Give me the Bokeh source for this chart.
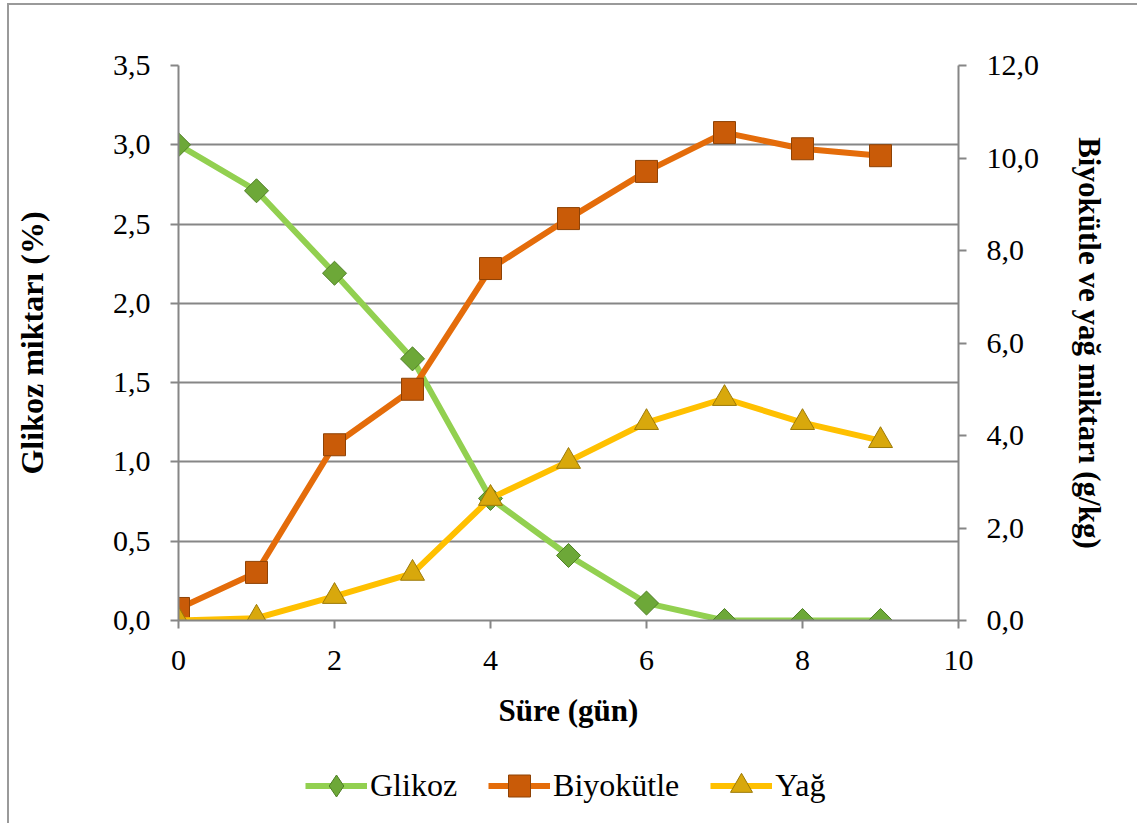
import math
from bokeh.plotting import figure
from bokeh.layouts import column
from bokeh.models import Range1d, LinearAxis, FixedTicker, Legend, LegendItem
from bokeh.embed import file_html
from bokeh.resources import INLINE

# Fermentation time course
days = [0, 1, 2, 3, 4, 5, 6, 7, 8, 9]
glikoz = [3.00, 2.71, 2.19, 1.65, 0.77, 0.41, 0.11, 0.0, 0.0, 0.0]          # %
biyokutle = [0.26, 1.04, 3.80, 5.00, 7.61, 8.69, 9.71, 10.55, 10.20, 10.05]  # g/kg
yag = [0.0, 0.05, 0.52, 1.02, 2.64, 3.44, 4.28, 4.80, 4.28, 3.89]            # g/kg

x_ticks = [0, 2, 4, 6, 8, 10]
left_ticks = [0, 0.5, 1.0, 1.5, 2.0, 2.5, 3.0, 3.5]
right_ticks = [0, 2, 4, 6, 8, 10, 12]

def comma(v, nd=1):
    return f"{v:.{nd}f}".replace(".", ",")

FONT = "Liberation Serif"
GRAY = "#868686"

G_LINE, G_FILL, G_EDGE = "#92D050", "#6DA838", "#4F7F26"
B_LINE, B_FILL, B_EDGE = "#E46C0A", "#C95B08", "#8E4205"
Y_LINE, Y_FILL, Y_EDGE = "#FFC000", "#D8A80C", "#9C7A08"

p = figure(width=1128, height=730, output_backend="svg", toolbar_location=None,
           x_range=Range1d(0, 10), y_range=Range1d(0, 3.5),
           min_border_left=169, min_border_right=179,
           min_border_top=60, min_border_bottom=115,
           background_fill_color="white", border_fill_color="white")
p.outline_line_color = None
p.extra_y_ranges = {"right": Range1d(0, 12)}

# horizontal grid only
p.xgrid.visible = False
p.ygrid.ticker = FixedTicker(ticks=left_ticks)
p.ygrid.grid_line_color = GRAY
p.ygrid.grid_line_width = 2

def style_axis(ax):
    ax.axis_line_color = GRAY
    ax.axis_line_width = 2
    ax.major_tick_line_color = GRAY
    ax.major_tick_line_width = 2
    ax.major_tick_out = 8
    ax.major_tick_in = 0
    ax.minor_tick_line_color = None
    ax.major_label_text_font = FONT
    ax.major_label_text_font_size = "30px"
    ax.major_label_text_color = "black"
    ax.axis_label_text_font = FONT
    ax.axis_label_text_font_size = "31px"
    ax.axis_label_text_font_style = "bold"
    ax.axis_label_text_color = "black"

xa = p.xaxis[0]
style_axis(xa)
xa.ticker = FixedTicker(ticks=x_ticks)
xa.major_label_standoff = 22
xa.axis_label = "Süre (gün)"
xa.axis_label_standoff = 20

ya = p.yaxis[0]
style_axis(ya)
ya.ticker = FixedTicker(ticks=left_ticks)
ya.major_label_overrides = {t: comma(t) for t in left_ticks}
ya.major_label_standoff = 20
ya.axis_label = "Glikoz miktarı (%)"
ya.axis_label_text_font_size = "32px"
ya.axis_label_standoff = 60

ra = LinearAxis(y_range_name="right")
style_axis(ra)
ra.ticker = FixedTicker(ticks=right_ticks)
ra.major_label_overrides = {t: comma(t) for t in right_ticks}
ra.major_label_standoff = 20
ra.axis_label = "Biyokütle ve yağ miktarı (g/kg)"
ra.axis_label_standoff = 30
p.add_layout(ra, "right")

# series
p.line(days, glikoz, line_color=G_LINE, line_width=6)
p.scatter(days, glikoz, marker="square", angle=math.pi / 4, size=17,
          fill_color=G_FILL, line_color=G_EDGE, line_width=1)

p.line(days, biyokutle, line_color=B_LINE, line_width=6, y_range_name="right")
p.scatter(days, biyokutle, marker="square", size=22,
          fill_color=B_FILL, line_color=B_EDGE, line_width=1, y_range_name="right")

p.line(days, yag, line_color=Y_LINE, line_width=6, y_range_name="right")
p.scatter(days, yag, marker="triangle", size=24,
          fill_color=Y_FILL, line_color=Y_EDGE, line_width=1, y_range_name="right")

# legend strip under the chart; its sample glyphs sit outside the visible range
lf = figure(width=1128, height=88, output_backend="svg", toolbar_location=None,
            x_range=Range1d(0, 1), y_range=Range1d(0, 1),
            x_axis_location=None, y_axis_location=None,
            min_border_left=0, min_border_right=0,
            min_border_top=0, min_border_bottom=0,
            background_fill_color="white", border_fill_color="white")
lf.outline_line_color = None
lf.grid.visible = False

off = [-10]
lg_g = [lf.line(off, off, line_color=G_LINE, line_width=6),
        lf.scatter(off, off, marker="diamond", fill_color=G_FILL, line_color=G_EDGE)]
lg_b = [lf.line(off, off, line_color=B_LINE, line_width=6),
        lf.scatter(off, off, marker="square", fill_color=B_FILL, line_color=B_EDGE)]
lg_y = [lf.line(off, off, line_color=Y_LINE, line_width=6),
        lf.scatter(off, off, marker="triangle", fill_color=Y_FILL, line_color=Y_EDGE)]

legend = Legend(items=[
    LegendItem(label="Glikoz", renderers=lg_g),
    LegendItem(label="Biyokütle", renderers=lg_b),
    LegendItem(label="Yağ", renderers=lg_y),
], orientation="horizontal", location=(127, 10))
legend.label_text_font = FONT
legend.label_text_font_size = "32px"
legend.label_text_color = "black"
legend.glyph_width = 62
legend.glyph_height = 55
legend.label_standoff = 3
legend.spacing = 31
legend.padding = 0
legend.margin = 0
legend.border_line_color = None
legend.background_fill_alpha = 0
lf.add_layout(legend, "center")

# chart-area border (left and top edges)
layout = column(p, lf, spacing=0)
layout.margin = (3, 0, 0, 7)
layout.styles = {"border-left": "2px solid #9A9A9A", "border-top": "2px solid #9A9A9A"}

open("out.html", "w").write(file_html(layout, INLINE))
